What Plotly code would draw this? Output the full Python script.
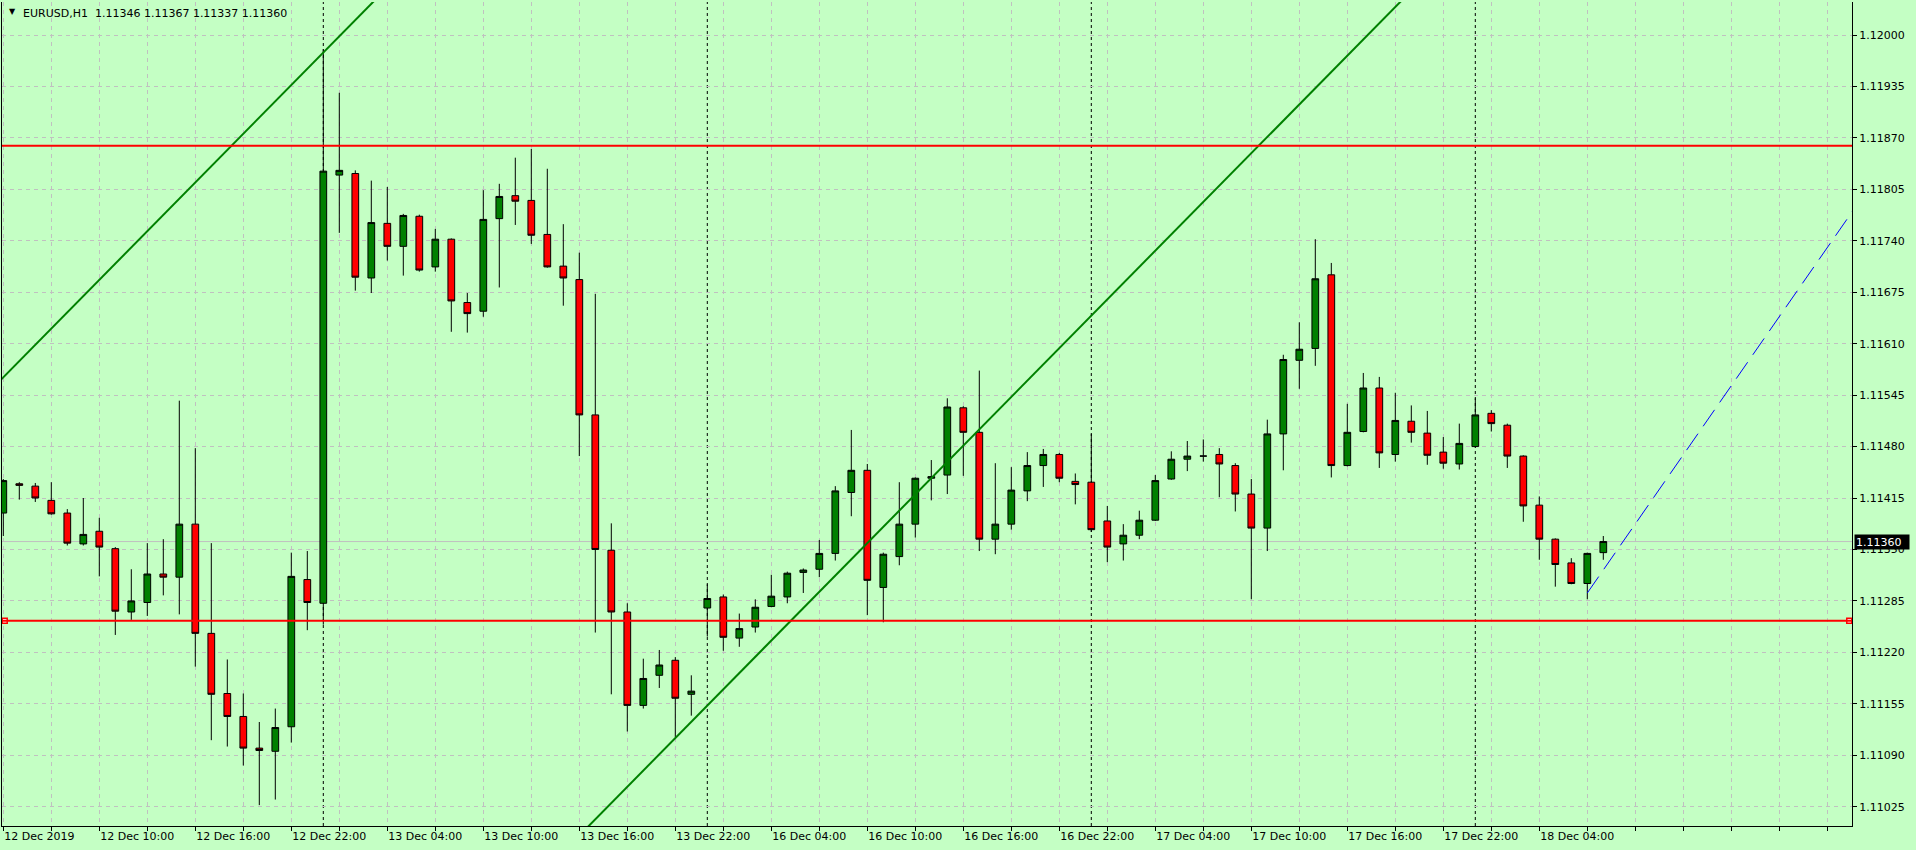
import plotly.graph_objects as go
import pandas as pd

# ---------------- data ----------------
symbol_title = "EURUSD,H1"
times = list(pd.date_range("2019-12-12 04:00", "2019-12-13 23:00", freq="h")) + \
        list(pd.date_range("2019-12-16 00:00", "2019-12-18 08:00", freq="h"))

opens = [1.11396, 1.11433, 1.11430, 1.11412, 1.11396, 1.11357, 1.11373, 1.11351, 1.11271, 1.11283,
         1.11319, 1.11315, 1.11382, 1.11244, 1.11168, 1.11139, 1.11099, 1.11095, 1.11126, 1.11312,
         1.11282, 1.11823, 1.11825, 1.11693, 1.11762, 1.11733, 1.11771, 1.11707, 1.11742, 1.11662,
         1.11651, 1.11768, 1.11797, 1.11791, 1.11748, 1.11708, 1.11691, 1.11520, 1.11349, 1.11271,
         1.11153, 1.11191, 1.11210, 1.11167, 1.11276, 1.11290, 1.11238, 1.11252, 1.11278, 1.11290,
         1.11321, 1.11325, 1.11345, 1.11422, 1.11450, 1.11302, 1.11341, 1.11382, 1.11440, 1.11444,
         1.11529, 1.11498, 1.11363, 1.11382, 1.11424, 1.11456, 1.11470, 1.11436, 1.11435, 1.11386,
         1.11357, 1.11368, 1.11387, 1.11439, 1.11464, 1.11468, 1.11470, 1.11456, 1.11420, 1.11377,
         1.11496, 1.11589, 1.11604, 1.11697, 1.11456, 1.11499, 1.11554, 1.11470, 1.11512, 1.11497,
         1.11473, 1.11458, 1.11480, 1.11522, 1.11507, 1.11468, 1.11406, 1.11363, 1.11333, 1.11307,
         1.11346]
highs = [1.11439, 1.11435, 1.11434, 1.11435, 1.11401, 1.11415, 1.11390, 1.11353, 1.11325, 1.11358,
         1.11363, 1.11538, 1.11478, 1.11358, 1.11211, 1.11168, 1.11132, 1.11149, 1.11346, 1.11348,
         1.11982, 1.11927, 1.11829, 1.11816, 1.11808, 1.11774, 1.11773, 1.11755, 1.11743, 1.11674,
         1.11804, 1.11812, 1.11845, 1.11856, 1.11831, 1.11761, 1.11725, 1.11673, 1.11383, 1.11282,
         1.11212, 1.11223, 1.11214, 1.11191, 1.11306, 1.11293, 1.11269, 1.11287, 1.11318, 1.11322,
         1.11326, 1.11362, 1.11430, 1.11501, 1.11458, 1.11346, 1.11435, 1.11441, 1.11463, 1.11541,
         1.11531, 1.11576, 1.11459, 1.11454, 1.11473, 1.11477, 1.11472, 1.11446, 1.11496, 1.11405,
         1.11382, 1.11399, 1.11444, 1.11474, 1.11487, 1.11489, 1.11478, 1.11459, 1.11439, 1.11514,
         1.11596, 1.11637, 1.11742, 1.11712, 1.11534, 1.11573, 1.11568, 1.11548, 1.11532, 1.11525,
         1.11492, 1.11509, 1.11541, 1.11526, 1.11509, 1.11469, 1.11417, 1.11364, 1.11339, 1.11346,
         1.11367]
lows = [1.11367, 1.11413, 1.11410, 1.11394, 1.11355, 1.11355, 1.11316, 1.11242, 1.11261, 1.11266,
        1.11292, 1.11268, 1.11202, 1.11109, 1.11101, 1.11077, 1.11027, 1.11034, 1.11106, 1.11248,
        1.11255, 1.11750, 1.11677, 1.11674, 1.11715, 1.11696, 1.11701, 1.11701, 1.11625, 1.11624,
        1.11644, 1.11681, 1.11760, 1.11736, 1.11706, 1.11658, 1.11468, 1.11245, 1.11167, 1.11120,
        1.11149, 1.11175, 1.11113, 1.11140, 1.11240, 1.11222, 1.11227, 1.11245, 1.11277, 1.11282,
        1.11295, 1.11315, 1.11336, 1.11392, 1.11267, 1.11258, 1.11330, 1.11365, 1.11412, 1.11420,
        1.11443, 1.11348, 1.11344, 1.11375, 1.11411, 1.11429, 1.11435, 1.11407, 1.11372, 1.11334,
        1.11336, 1.11363, 1.11386, 1.11438, 1.11449, 1.11461, 1.11416, 1.11398, 1.11287, 1.11348,
        1.11450, 1.11553, 1.11582, 1.11441, 1.11455, 1.11498, 1.11453, 1.11461, 1.11485, 1.11457,
        1.11452, 1.11451, 1.11479, 1.11499, 1.11453, 1.11385, 1.11337, 1.11303, 1.11306, 1.11287,
        1.11337]
closes = [1.11437, 1.11431, 1.11415, 1.11395, 1.11358, 1.11369, 1.11353, 1.11272, 1.11285, 1.11319,
          1.11315, 1.11382, 1.11244, 1.11167, 1.11139, 1.11099, 1.11096, 1.11125, 1.11316, 1.11283,
          1.11828, 1.11829, 1.11694, 1.11763, 1.11733, 1.11772, 1.11703, 1.11742, 1.11664, 1.11648,
          1.11767, 1.11796, 1.11790, 1.11747, 1.11707, 1.11693, 1.11520, 1.11350, 1.11271, 1.11153,
          1.11187, 1.11204, 1.11162, 1.11171, 1.11288, 1.11239, 1.11250, 1.11277, 1.11291, 1.11320,
          1.11324, 1.11345, 1.11424, 1.11450, 1.11311, 1.11344, 1.11382, 1.11440, 1.11442, 1.11530,
          1.11498, 1.11363, 1.11382, 1.11425, 1.11456, 1.11470, 1.11440, 1.11432, 1.11375, 1.11353,
          1.11368, 1.11387, 1.11437, 1.11464, 1.11468, 1.11468, 1.11458, 1.11420, 1.11377, 1.11496,
          1.11590, 1.11603, 1.11692, 1.11456, 1.11498, 1.11554, 1.11472, 1.11513, 1.11498, 1.11469,
          1.11459, 1.11484, 1.11520, 1.11509, 1.11468, 1.11405, 1.11363, 1.11331, 1.11307, 1.11345,
          1.11360]

price_ticks = [1.11025, 1.11090, 1.11155, 1.11220, 1.11285, 1.11350, 1.11415, 1.11480,
               1.11545, 1.11610, 1.11675, 1.11740, 1.11805, 1.11870, 1.11935, 1.12000]
horizontal_levels = [1.11860, 1.11260]
trend_lines = [[(-1, 1.11547), (30, 1.12183)],
               [(35, 1.10968), (90, 1.12097)]]
projection_line = [(99, 1.11295), (120, 1.11906)]
bid_price = 1.11360

# ---------------- styling ----------------
BG = "#C4FFC4"
FONT = "DejaVu Sans"
x_range = [-0.081, 115.544]
y_range = [1.110006, 1.120417]

n = len(times)
idx = list(range(n))

fig = go.Figure()

fig.add_trace(go.Candlestick(
    x=idx, open=opens, high=highs, low=lows, close=closes,
    increasing=dict(fillcolor="#008000", line=dict(color="black", width=1)),
    decreasing=dict(fillcolor="#FF0000", line=dict(color="black", width=1)),
    whiskerwidth=0, showlegend=False, hoverinfo="skip"))

# trend lines
for (x0, p0), (x1, p1) in trend_lines:
    fig.add_trace(go.Scatter(x=[x0, x1], y=[p0, p1], mode="lines",
                             line=dict(color="#008000", width=2),
                             showlegend=False, hoverinfo="skip"))
(bx0, bp0), (bx1, bp1) = projection_line
fig.add_trace(go.Scatter(x=[bx0, bx1], y=[bp0, bp1], mode="lines",
                         line=dict(color="#0000FF", width=1, dash="20px,9px"),
                         showlegend=False, hoverinfo="skip"))

shapes = []
# day separators
for i, t in enumerate(times):
    if t.hour == 0:
        shapes.append(dict(type="line", xref="x", yref="paper", x0=i, x1=i, y0=0, y1=1,
                           line=dict(color="black", width=1, dash="3px,3px"), layer="below"))
# bid line
shapes.append(dict(type="line", xref="paper", yref="y", x0=0, x1=1, y0=bid_price, y1=bid_price,
                   line=dict(color="#C0C0C0", width=1), layer="below"))
# horizontal levels
for lv in horizontal_levels:
    shapes.append(dict(type="line", xref="paper", yref="y", x0=0, x1=1, y0=lv, y1=lv,
                       line=dict(color="#FF0000", width=2), layer="above"))

# selection markers on the lower level
sel = horizontal_levels[1]
fig.add_trace(go.Scatter(x=[x_range[0] + 0.17, x_range[1] - 0.17], y=[sel, sel], mode="markers",
                         marker=dict(symbol="square", size=5, color="white",
                                     line=dict(color="#FF0000", width=1.5)),
                         showlegend=False, hoverinfo="skip", cliponaxis=False))

tickvals_x = list(range(0, int(x_range[1]) + 1, 3))
ticktext_x = []
for v in tickvals_x:
    if v % 6 == 0 and v < n:
        ticktext_x.append("12 Dec 2019" if v == 0 else times[v].strftime("%d %b %H:%M"))
    else:
        ticktext_x.append("")

fig.update_layout(
    width=1916, height=850,
    margin=dict(l=2, r=64, t=2, b=24),
    paper_bgcolor=BG, plot_bgcolor=BG,
    font=dict(family=FONT, size=11, color="black"),
    shapes=shapes,
    boxgap=0.4,
    xaxis=dict(range=x_range, rangeslider=dict(visible=False), showgrid=True,
               gridcolor="#C0C0C0", griddash="4px,4px", gridwidth=1,
               tickvals=tickvals_x, ticktext=ticktext_x, ticks="outside", ticklen=4,
               tickcolor="black", showline=True, linecolor="black", linewidth=1,
               ticklabelposition="outside right", zeroline=False,
               tickfont=dict(family=FONT, size=11, color="black")),
    yaxis=dict(range=y_range, side="right", showgrid=True, gridcolor="#C0C0C0",
               griddash="4px,4px", gridwidth=1, tickvals=price_ticks,
               ticktext=[f"{v:.5f}" for v in price_ticks], ticks="outside", ticklen=4,
               tickcolor="black", showline=True, linecolor="black", linewidth=1,
               mirror=True, zeroline=False,
               tickfont=dict(family=FONT, size=11, color="black")),
    annotations=[
        dict(text="\u25BC", xref="paper", yref="paper", x=0, y=1, xanchor="left", yanchor="top",
             xshift=5, yshift=-3, showarrow=False, font=dict(family=FONT, size=8, color="black")),
        dict(text=f"{symbol_title}\u00a0\u00a0{opens[-1]:.5f} {highs[-1]:.5f} {lows[-1]:.5f} {closes[-1]:.5f}",
             xref="paper", yref="paper", x=0, y=1, xanchor="left", yanchor="top",
             xshift=19, yshift=-3, showarrow=False, font=dict(family=FONT, size=11, color="black")),
        dict(text=f"{bid_price:.5f}", xref="paper", yref="y", x=1, y=bid_price,
             xanchor="left", yanchor="middle", xshift=2, showarrow=False,
             bgcolor="black", borderpad=1, width=52, height=12, align="left",
             font=dict(family=FONT, size=11, color="white")),
    ],
)

fig.write_html("out.html", config={"displayModeBar": False},
               post_script="document.body.style.margin='0';document.body.style.overflow='hidden';")
